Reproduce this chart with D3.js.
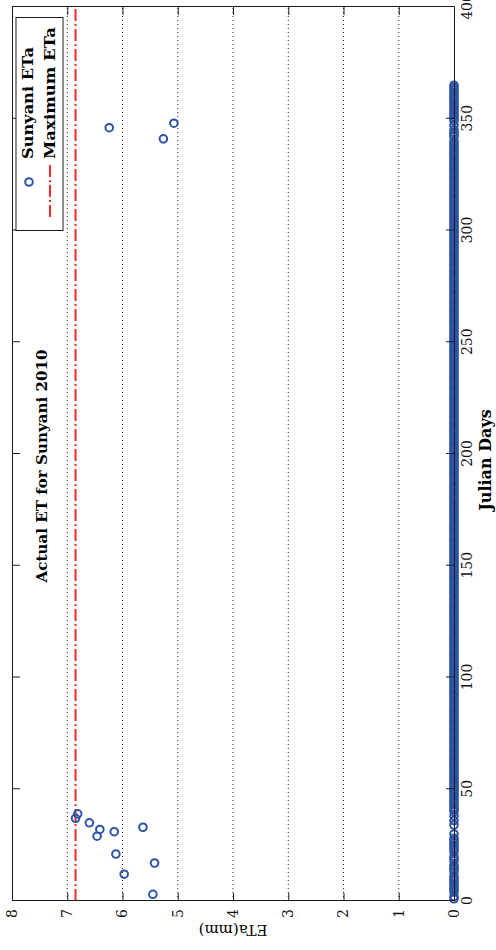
<!DOCTYPE html>
<html>
<head>
<meta charset="utf-8">
<script src="https://cdn.jsdelivr.net/npm/d3@7"></script>
<style>
  html, body { margin: 0; padding: 0; background: #fff; }
  svg { display: block; }
</style>
</head>
<body>
<svg id="chart" width="496" height="950"></svg>
<script>
// Julian days of 2010 with a non-zero actual ET, and the ET (mm) on those days
const wetDays = [3, 12, 17, 21, 29, 31, 32, 33, 35, 37, 39, 341, 346, 348];
const wetEta  = [5.45, 5.97, 5.42, 6.12, 6.46, 6.15, 6.41, 5.63, 6.60, 6.85, 6.81, 5.26, 6.24, 5.07];
// every other day of the year has ETa = 0
const yearDays = d3.range(1, 366);
const dayTicks = [0, 50, 100, 150, 200, 250, 300, 350, 400];
const etaTicks = [0, 1, 2, 3, 4, 5, 6, 7, 8];
const titleText = "Actual ET for Sunyani 2010";
const xLabel = "Julian Days";
const yLabel = "ETa(mm)";
const legendLabels = ["Sunyani ETa", "Maximum ETa"];

const maxEta = d3.max(wetEta);
const etaByDay = new Map(wetDays.map((d, i) => [d, wetEta[i]]));
const series = yearDays.map(d => ({ day: d, eta: etaByDay.has(d) ? etaByDay.get(d) : 0 }));

const BLUE = "#2d53a6", RED = "#f42a2a", AX = "#1a1a1a";
const serif = "'DejaVu Serif', 'Liberation Serif', serif";

// The figure is laid out landscape (950 x 496) and turned a quarter turn
// counter-clockwise onto the portrait page.
const W = 950, H = 496;
const svg = d3.select("#chart");
const g = svg.append("g").attr("transform", `translate(0,${W}) rotate(-90)`);

const x = d3.scaleLinear().domain([0, 400]).range([49, 943]);
const y = d3.scaleLinear().domain([0, 8]).range([454, 12]);
const [x0, x1] = x.range(), [yb, yt] = y.range();

// dotted horizontal grid
g.append("g").selectAll("line")
  .data(etaTicks.filter(t => t > 0 && t < 8))
  .join("line")
  .attr("x1", x0).attr("x2", x1)
  .attr("y1", d => y(d)).attr("y2", d => y(d))
  .attr("stroke", "#222").attr("stroke-width", 1)
  .attr("stroke-dasharray", "1,3");

// maximum ETa reference line (dash-dot)
g.append("line")
  .attr("x1", x(0)).attr("x2", x(400))
  .attr("y1", y(maxEta)).attr("y2", y(maxEta))
  .attr("stroke", RED).attr("stroke-width", 2)
  .attr("stroke-dasharray", "12,3,2,3");

// daily ETa markers
g.append("g").selectAll("circle")
  .data(series)
  .join("circle")
  .attr("cx", d => x(d.day)).attr("cy", d => y(d.eta))
  .attr("r", 3.8)
  .attr("fill", "none").attr("stroke", BLUE).attr("stroke-width", 2);

// axes with inward ticks on all four sides
const tickFont = sel => sel.selectAll("text")
  .attr("font-family", serif).attr("font-size", 14).attr("fill", "#111");

const axB = g.append("g").attr("transform", `translate(0,${yb})`)
  .call(d3.axisBottom(x).tickValues(dayTicks).tickSizeInner(-8).tickSizeOuter(0).tickPadding(8));
const axT = g.append("g").attr("transform", `translate(0,${yt})`)
  .call(d3.axisTop(x).tickValues(dayTicks).tickSizeInner(-8).tickSizeOuter(0).tickFormat(""));
const axL = g.append("g").attr("transform", `translate(${x0},0)`)
  .call(d3.axisLeft(y).tickValues(etaTicks).tickSizeInner(-8).tickSizeOuter(0).tickPadding(8));
const axR = g.append("g").attr("transform", `translate(${x1},0)`)
  .call(d3.axisRight(y).tickValues(etaTicks).tickSizeInner(-8).tickSizeOuter(0).tickFormat(""));
[axB, axT, axL, axR].forEach(a => {
  a.select(".domain").attr("stroke", AX).attr("stroke-width", 1);
  a.selectAll(".tick line").attr("stroke", AX).attr("stroke-width", 1);
  tickFont(a);
});

// title inside the axes
g.append("text")
  .attr("x", 484).attr("y", 47)
  .attr("text-anchor", "middle")
  .attr("font-family", serif).attr("font-size", 15).attr("font-weight", "bold")
  .attr("textLength", 233).attr("lengthAdjust", "spacingAndGlyphs")
  .text(titleText);

// axis labels
g.append("text")
  .attr("x", 490).attr("y", 491)
  .attr("text-anchor", "middle")
  .attr("font-family", serif).attr("font-size", 16).attr("font-weight", "bold")
  .text(xLabel);

g.append("text")
  .attr("transform", `translate(25,${y(4)}) rotate(-90)`)
  .attr("text-anchor", "middle")
  .attr("font-family", serif).attr("font-size", 15)
  .text(yLabel);

// legend
const lg = g.append("g");
lg.append("rect")
  .attr("x", 719.5).attr("y", 16).attr("width", 213).attr("height", 47)
  .attr("fill", "#fff").attr("stroke", AX).attr("stroke-width", 1);
lg.append("circle")
  .attr("cx", 768).attr("cy", 29).attr("r", 3.8)
  .attr("fill", "none").attr("stroke", BLUE).attr("stroke-width", 2);
lg.append("line")
  .attr("x1", 733).attr("x2", 787).attr("y1", 50).attr("y2", 50)
  .attr("stroke", RED).attr("stroke-width", 2)
  .attr("stroke-dasharray", "12,3,2,3");
lg.selectAll("text.lab")
  .data(legendLabels)
  .join("text").attr("class", "lab")
  .attr("x", 791).attr("y", (d, i) => i ? 55 : 33)
  .attr("font-family", serif).attr("font-size", 14).attr("font-weight", "bold")
  .attr("textLength", (d, i) => i ? 132 : 112).attr("lengthAdjust", "spacingAndGlyphs")
  .text(d => d);
</script>
</body>
</html>
